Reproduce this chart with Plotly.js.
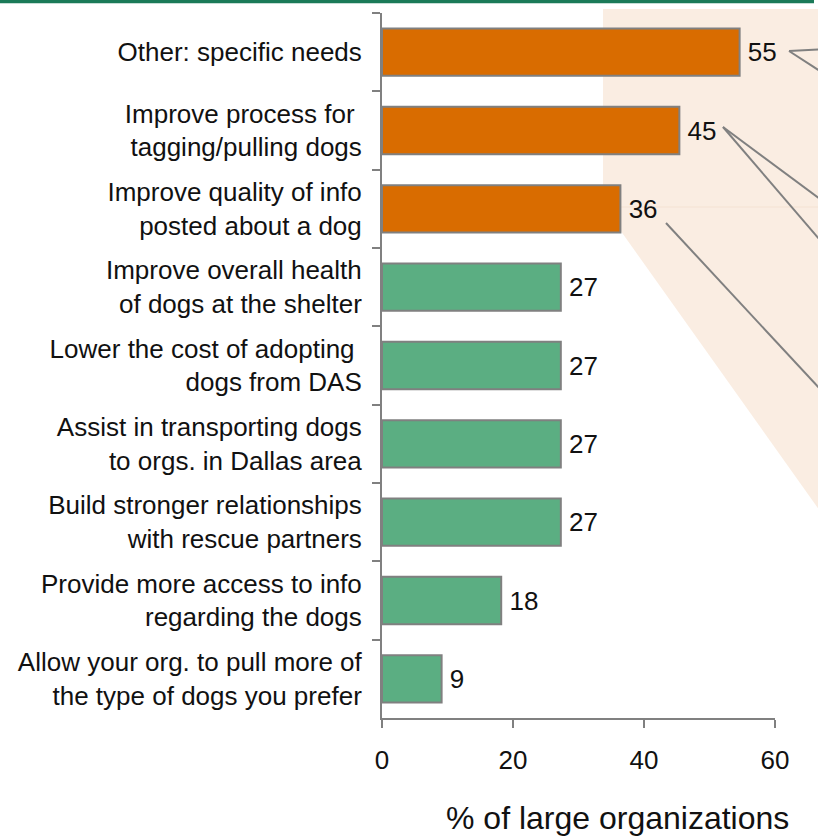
<!DOCTYPE html>
<html>
<head>
<meta charset="utf-8">
<script src="https://cdn.plot.ly/plotly-3.0.1.min.js"></script>
<style>html,body{margin:0;padding:0;background:#fff;}#chart{width:818px;height:836px;}</style>
</head>
<body>
<div id="chart"></div>
<script>
// ---- data ----
const categories = [
  "Other: specific needs",
  "Improve process for&nbsp;<br>tagging/pulling dogs",
  "Improve quality of info<br>posted about a dog",
  "Improve overall health<br>of dogs at the shelter",
  "Lower the cost of adopting&nbsp;<br>dogs from DAS",
  "Assist in transporting dogs<br>to orgs. in Dallas area",
  "Build stronger relationships<br>with rescue partners",
  "Provide more access to info<br>regarding the dogs",
  "Allow your org. to pull more of<br>the type of dogs you prefer"
];
const values = [54.6, 45.4, 36.4, 27.3, 27.3, 27.3, 27.3, 18.2, 9.1];
const valueLabels = ["55", "45", "36", "27", "27", "27", "27", "18", "9"];
const highlighted = [true, true, true, false, false, false, false, false, false];
const xTickValues = [0, 20, 40, 60];
const xTitle = "% of large organizations";

// ---- styling ----
const W = 818, H = 836;
const M = {l: 382, r: 43, t: 13, b: 118};
const PW = W - M.l - M.r, PH = H - M.t - M.b;
const px = x => (x - M.l) / PW;
const py = y => (H - M.b - y) / PH;
const ORANGE = "#D96C00", GREEN = "#5BAE82", GRAY = "#808080", PEACH = "#FAEDE2";
const FONT = "Liberation Sans, Arial, sans-serif";
const TXT = "#111111";

const barColors = highlighted.map(h => h ? ORANGE : GREEN);

const trace = {
  type: "bar",
  orientation: "h",
  y: categories,
  x: values,
  text: valueLabels,
  texttemplate: "\u2009%{text}",
  textposition: "outside",
  textfont: {family: FONT, size: 26, color: TXT},
  cliponaxis: false,
  marker: {color: barColors, line: {color: GRAY, width: 2}},
  hoverinfo: "none"
};

function line(x0, y0, x1, y1) {
  return {type: "line", xref: "paper", yref: "paper",
    x0: px(x0), y0: py(y0), x1: px(x1), y1: py(y1),
    line: {color: GRAY, width: 2}, layer: "above"};
}

const shapes = [
  // top rule
  {type: "rect", xref: "paper", yref: "paper", x0: px(0), x1: px(814), y0: py(3.3), y1: py(0),
   fillcolor: "#1B7A58", line: {width: 0}, layer: "below"},
  // peach callout background
  {type: "path", xref: "paper", yref: "paper",
   path: `M ${px(603)} ${py(9)} L ${px(830)} ${py(9)} L ${px(830)} ${py(525)} L ${px(603)} ${py(206)} Z`,
   fillcolor: PEACH, line: {width: 0}, layer: "below"},
  {type: "line", xref: "paper", yref: "paper", x0: px(603), x1: px(830), y0: py(207), y1: py(207),
   line: {color: "#F4E2D3", width: 1}, layer: "below"},
  // callout lines
  line(789, 51, 820, 49.5),
  line(789, 51, 820, 71),
  line(723, 127, 820, 199),
  line(723, 127, 820, 240),
  line(666, 223, 820, 389)
];

const layout = {
  width: W, height: H,
  margin: M,
  paper_bgcolor: "#ffffff",
  plot_bgcolor: "rgba(0,0,0,0)",
  showlegend: false,
  bargap: 0.395,
  font: {family: FONT, size: 26, color: TXT},
  xaxis: {
    range: [0, 60],
    tickmode: "array",
    tickvals: xTickValues,
    ticks: "outside", ticklen: 8, tickwidth: 2, tickcolor: GRAY,
    showline: true, linecolor: GRAY, linewidth: 2,
    showgrid: false, zeroline: false,
    tickfont: {family: FONT, size: 26, color: TXT},
    ticklabelstandoff: 10,
    fixedrange: true
  },
  yaxis: {
    type: "category",
    autorange: "reversed",
    ticks: "outside", ticklen: 8, tickwidth: 2, tickcolor: GRAY,
    tickson: "boundaries",
    showline: true, linecolor: GRAY, linewidth: 2,
    showgrid: false, zeroline: false,
    tickfont: {family: FONT, size: 26, color: TXT},
    ticklabelstandoff: 13,
    fixedrange: true
  },
  shapes: shapes,
  annotations: [{
    xref: "paper", yref: "paper",
    x: px(617), y: py(818),
    xanchor: "center", yanchor: "middle",
    text: xTitle, showarrow: false,
    font: {family: FONT, size: 32, color: TXT}
  }]
};

Plotly.newPlot("chart", [trace], layout, {displayModeBar: false, staticPlot: true});
</script>
</body>
</html>
